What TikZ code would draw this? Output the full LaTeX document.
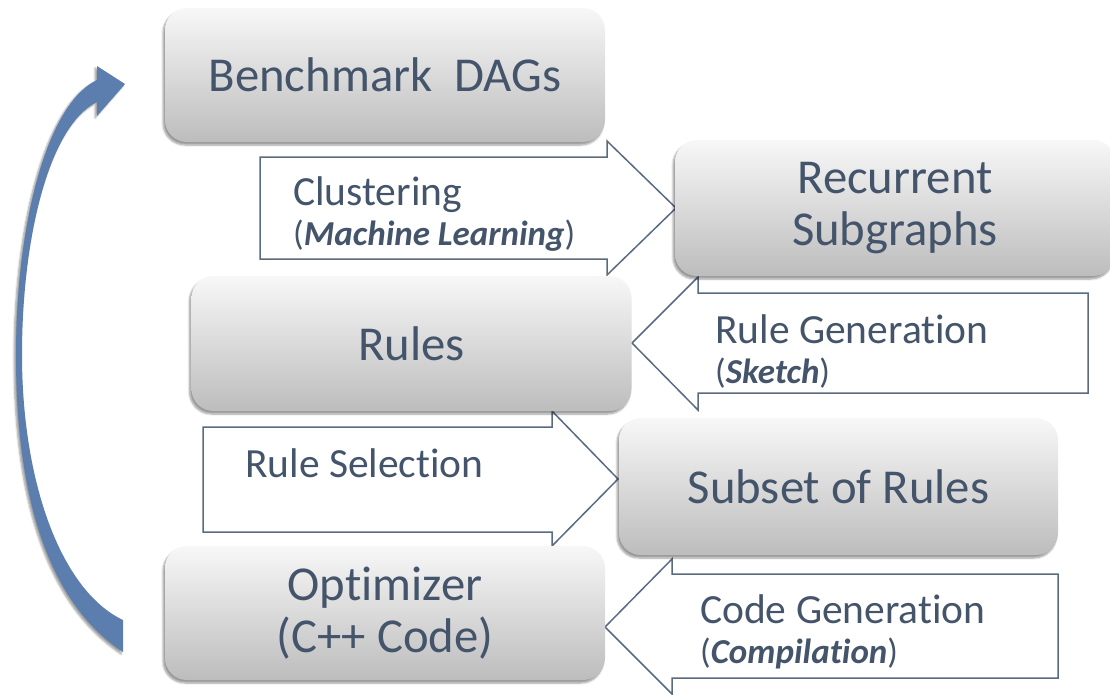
\documentclass[tikz,border=0pt]{standalone}
\usepackage{fontspec}
\setmainfont{Carlito}[Ligatures=NoCommon]
\usetikzlibrary{shadows.blur}
\definecolor{FlowText}{HTML}{44546A}
\definecolor{FlowLine}{HTML}{5B6B7F}
\definecolor{LoopBlue}{HTML}{5B7EAE}

\begin{document}
\begin{tikzpicture}[x=1pt, y=-1pt,
   stage/.style={rounded corners=22pt, minimum width=440pt, minimum height=134pt,
                 inner sep=0pt, align=center, text=FlowText,
                 top color=black!3, bottom color=black!26,
                 font=\fontsize{48.7}{52}\selectfont,
                 blur shadow={shadow xshift=-2pt, shadow yshift=-3pt, shadow blur steps=6}},
   flow/.style={draw=FlowLine, fill=white, line width=1.5pt},
   lbl/.style={anchor=base west, inner sep=0pt, text=FlowText,
               font=\fontsize{41.5}{48}\selectfont},
   sublbl/.style={lbl, font=\fontsize{35}{40}\selectfont}]
  \useasboundingbox (0,0) rectangle (1110,694);

  % Blockpfeile zuerst, damit die Spitzen unter den Boxen liegen
  \draw[flow] (260,157) -- (607,157) -- (607,141) -- (676,208) -- (607,275) -- (607,259) -- (260,259) -- cycle;
  \draw[flow] (1088,293) -- (698,293) -- (698,277) -- (632,343) -- (698,410) -- (698,393) -- (1088,393) -- cycle;
  \draw[flow] (203,427) -- (552,427) -- (552,411) -- (618,479) -- (552,546) -- (552,532) -- (203,532) -- cycle;
  \draw[flow] (1058,574) -- (672,574) -- (672,559) -- (605,627) -- (672,694) -- (672,678) -- (1058,678) -- cycle;

  \node[stage] (dags)   at (385,75)    {Benchmark\ \ DAGs};
  \node[stage, minimum height=136pt] (recur) at (895,208) {Recurrent\\Subgraphs};
  \node[stage, minimum height=135pt] (rules) at (411.5,343.5) {Rules};
  \node[stage, minimum height=137pt, minimum width=439pt] (subset) at (838.5,486.5) {Subset of Rules};
  \node[stage] (opt)    at (385,613)   {Optimizer\\(C++ Code)};

  \node[lbl]    (clus)    at (293,205) {Clustering};
  \node[sublbl] (clussub) at (293,245) {(\textbf{\textit{Machine Learning}})};
  \node[lbl]    (rgen)    at (715,343) {Rule Generation};
  \node[sublbl] (rgensub) at (715,383) {(\textbf{\textit{Sketch}})};
  \node[lbl]    (rsel)    at (245,477) {Rule Selection};
  \node[lbl]    (cgen)    at (700,623) {Code Generation};
  \node[sublbl] (cgensub) at (700,663) {(\textbf{\textit{Compilation}})};

  % Rueckkopplung Optimizer -> Benchmark DAGs (Sichel, in der Mitte duenn)
  \fill[LoopBlue, blur shadow={shadow xshift=-2pt, shadow yshift=-2pt, shadow blur steps=5}]
    (123,620) .. controls (60,590) and (22,480) .. (22,355)
    .. controls (22,235) and (50,125) .. (97,102)
    -- (97,116) -- (125,84) -- (97,66) -- (97,80)
    .. controls (45,105) and (16,230) .. (16,355)
    .. controls (16,490) and (45,600) .. (123,652) -- cycle;
\end{tikzpicture}
\end{document}
